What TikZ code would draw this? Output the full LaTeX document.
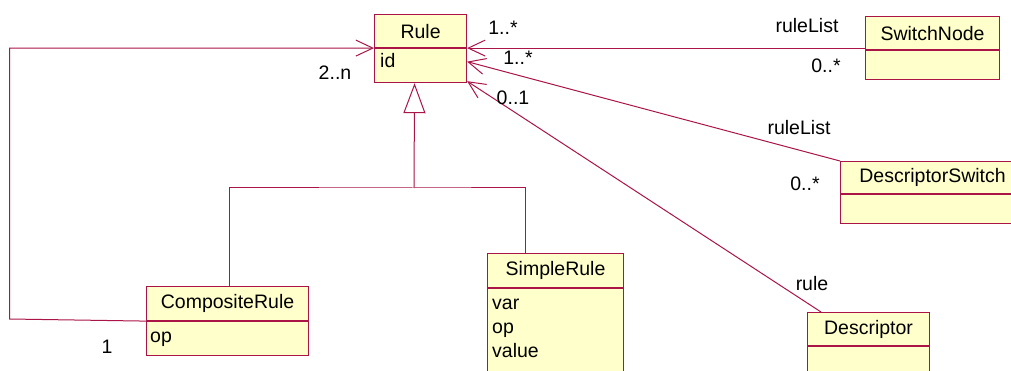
\documentclass[tikz,border=0pt]{standalone}
\usepackage{fontspec}
\setmainfont{Liberation Sans}
\usepackage{xcolor}
\usetikzlibrary{arrows.meta,positioning}

\definecolor{umlline}{RGB}{170,20,70}
\definecolor{umlfill}{RGB}{255,255,204}
\newcommand{\umlfont}{\fontsize{19.5}{24}\selectfont}

\begin{document}
\begin{tikzpicture}[
    x=1pt,y=1pt,
    assoc/.style={draw=umlline, line width=1pt},
    openhead/.style={-{Straight Barb[length=17pt,width=16pt]}},
    classhead/.style={
        draw=umlline,
        line width=1.1pt,
        fill=umlfill,
        anchor=north west,
        minimum height=33pt,
        inner sep=0pt,
        font=\umlfont
    },
    classbody/.style={
        draw=umlline,
        line width=1.1pt,
        fill=umlfill,
        inner sep=0pt
    },
    attr/.style={anchor=base west, inner sep=0pt, font=\umlfont},
    mult/.style={anchor=base, inner sep=0pt, font=\umlfont}
]

% ===== frame =====
\useasboundingbox (0,0) rectangle (1011,-371);

% ===== classes =====
% Rule
\node[classhead, minimum width=92pt] (rulehead) at (374,-14) {Rule};
\node[classbody, minimum width=92pt, minimum height=34pt, below=0pt of rulehead] (rulebody) {};
\node[attr] (ruleid) at (380,-68) {id};

% SwitchNode
\node[classhead, minimum width=134pt] (swhead) at (865,-16) {SwitchNode};
\node[classbody, minimum width=134pt, minimum height=29pt, below=0pt of swhead] (swbody) {};

% DescriptorSwitch
\node[classhead, minimum width=184pt, minimum height=32pt] (dshead) at (840,-161) {DescriptorSwitch};
\node[classbody, minimum width=184pt, minimum height=29pt, below=0pt of dshead] (dsbody) {};

% Descriptor
\node[classhead, minimum width=122pt] (deschead) at (807,-312) {Descriptor};
\node[classbody, minimum width=122pt, minimum height=60pt, below=0pt of deschead] (descbody) {};

% CompositeRule
\node[classhead, minimum width=162pt, minimum height=34pt] (comphead) at (146,-286) {CompositeRule};
\node[classbody, minimum width=162pt, minimum height=34pt, below=0pt of comphead] (compbody) {};
\node[attr] (compop) at (150,-342) {op};

% SimpleRule
\node[classhead, minimum width=136pt, minimum height=34pt] (simphead) at (487,-253) {SimpleRule};
\node[classbody, minimum width=136pt, minimum height=120pt, below=0pt of simphead] (simpbody) {};
\node[attr] (simpvar) at (492,-309) {var};
\node[attr] (simpop) at (492,-333) {op};
\node[attr] (simpvalue) at (492,-357) {value};

% ===== generalization =====
\coordinate (genjoin) at (414,-188);
\draw[assoc, {Triangle[open,length=30pt,width=22pt]}-] ([xshift=-6pt]rulebody.south) -- (genjoin);
\draw[assoc] ([xshift=2pt]comphead.north) |- (genjoin) -| ([xshift=-30pt]simphead.north);

% ===== associations =====
\coordinate (loopcorner) at (9.5,-319);
\draw[assoc, openhead] (comphead.south west) -- (loopcorner) |- (rulehead.south west);
\draw[assoc, openhead] (rulehead.south east -| swhead.west) -- (rulehead.south east);
\draw[assoc, openhead] (dshead.north west) -- ([yshift=4pt]rulebody.east);
\draw[assoc, openhead] ([xshift=14pt]deschead.north west) -- ([yshift=2pt]rulebody.south east);

% ===== multiplicities and roles =====
\node[mult] (multsw) at (503,-35) {1..*};
\node[mult] (multds) at (518,-65) {1..*};
\node[mult] (multdesc) at (513,-105) {0..1};
\node[mult] (multloop) at (335,-80) {2..n};
\node[mult] (multcomp) at (107,-353) {1};
\node[mult] (rolesw) at (807,-33) {ruleList};
\node[mult] (multswend) at (826,-73) {0..*};
\node[mult] (roleds) at (799,-135) {ruleList};
\node[mult] (multdsend) at (805,-191) {0..*};
\node[mult] (roledesc) at (812,-290) {rule};
\end{tikzpicture}
\end{document}
